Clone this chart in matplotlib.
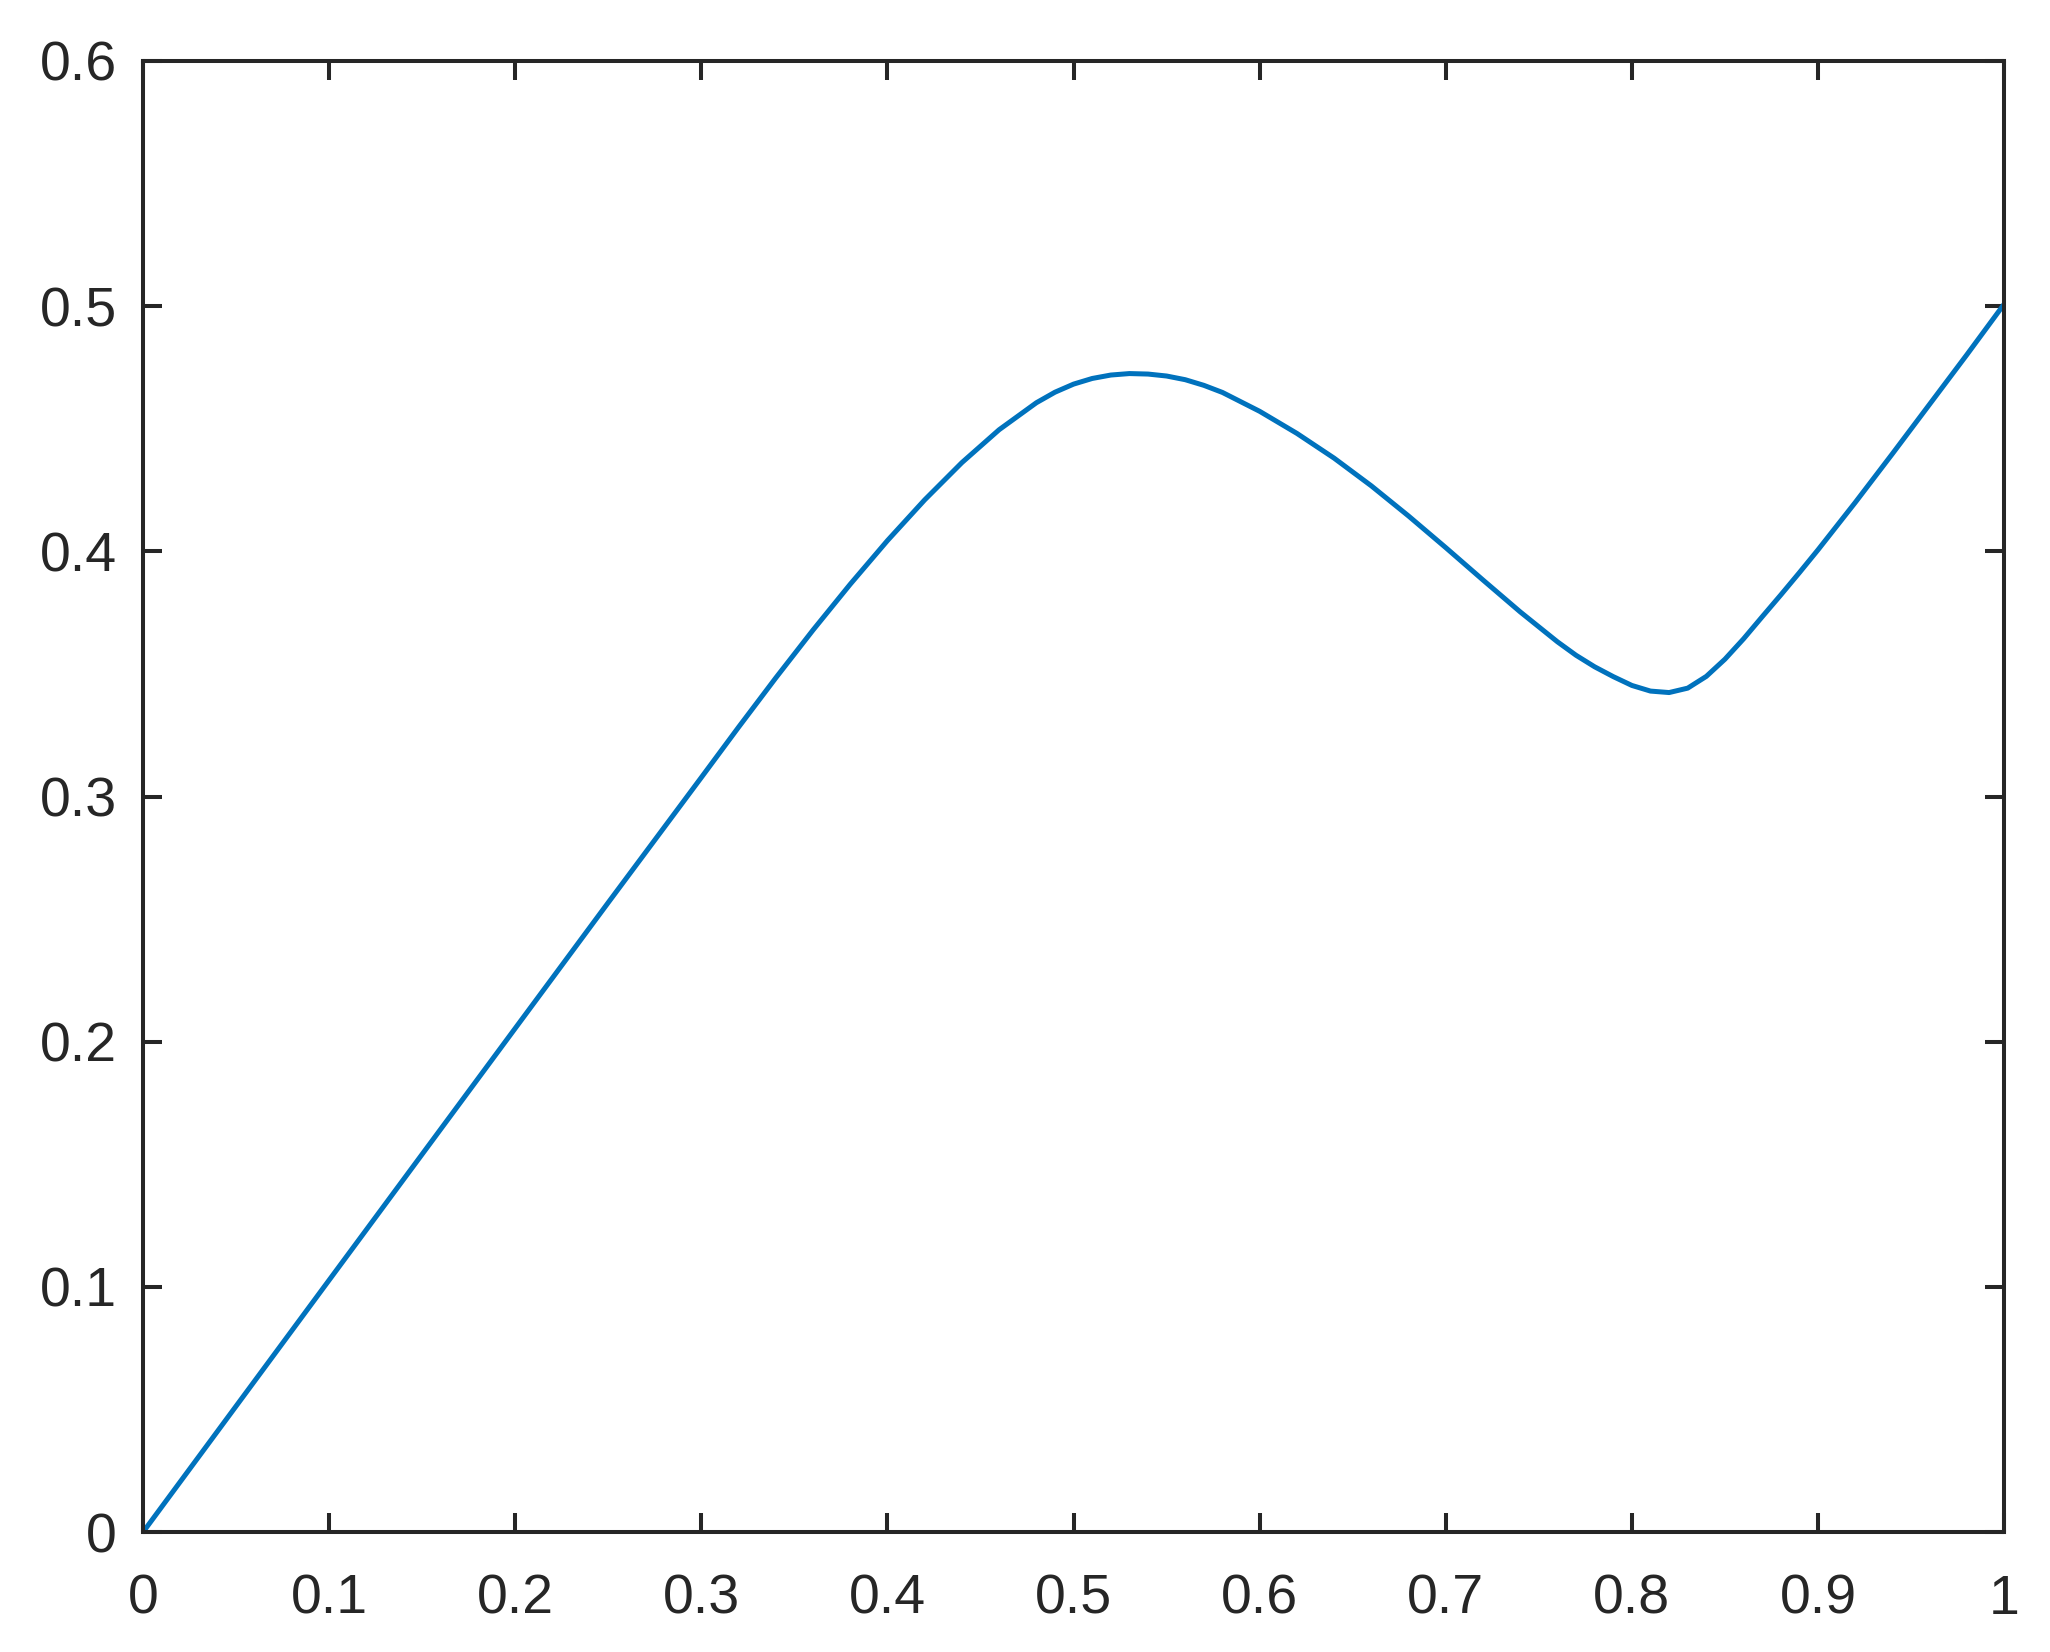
import matplotlib
matplotlib.use("Agg")
import matplotlib.pyplot as plt
import numpy as np

plt.rcParams['font.family'] = ['Liberation Sans', 'DejaVu Sans']

# points (denser where it bends)
x = [0.0, 0.1, 0.2, 0.25, 0.3, 0.32, 0.34, 0.36, 0.38, 0.40, 0.42, 0.44,
     0.46, 0.48, 0.49, 0.50, 0.51, 0.52, 0.53, 0.54, 0.55, 0.56, 0.57, 0.58,
     0.60, 0.62, 0.64, 0.66, 0.68, 0.70, 0.72, 0.74, 0.76, 0.77, 0.78, 0.79,
     0.80, 0.81, 0.82, 0.83, 0.84, 0.85, 0.86, 0.87, 0.88, 0.89, 0.90, 0.92,
     0.94, 0.96, 0.98, 1.0]
y = [0.0, 0.1028, 0.2055, 0.2568, 0.3078, 0.3283, 0.3484, 0.3679, 0.3866,
     0.4044, 0.4210, 0.4362, 0.4496, 0.4606, 0.4649, 0.4682, 0.4705, 0.4719,
     0.4725, 0.4723, 0.4715, 0.4700, 0.4677, 0.4648, 0.4571, 0.4481, 0.4380,
     0.4267, 0.4144, 0.4015, 0.3883, 0.3753, 0.3631, 0.3576, 0.3529, 0.3489,
     0.3453, 0.3430, 0.3424, 0.3442, 0.3490, 0.3560, 0.3643, 0.3733, 0.3822,
     0.3913, 0.4006, 0.4199, 0.4398, 0.4600, 0.4802, 0.5008]

xticks = [0, 0.1, 0.2, 0.3, 0.4, 0.5, 0.6, 0.7, 0.8, 0.9, 1]
xlabels = ['0', '0.1', '0.2', '0.3', '0.4', '0.5', '0.6', '0.7', '0.8', '0.9', '1']
yticks = [0, 0.1, 0.2, 0.3, 0.4, 0.5, 0.6]
ylabels = ['0', '0.1', '0.2', '0.3', '0.4', '0.5', '0.6']

fig = plt.figure(figsize=(20.5, 16.52), dpi=100)
ax = fig.add_axes([0.0698, 0.0726, 0.9078, 0.8905])

ax.plot(x, y, color='#0072BD', linewidth=3.6, solid_joinstyle='round')

ax.set_xlim(0, 1)
ax.set_ylim(0, 0.6)
ax.set_xticks(xticks)
ax.set_xticklabels(xlabels)
ax.set_yticks(yticks)
ax.set_yticklabels(ylabels)

for s in ax.spines.values():
    s.set_linewidth(2.9)
    s.set_color('#262626')
ax.tick_params(direction='in', length=13.5, width=2.9, color='#262626',
               labelsize=40, labelcolor='#262626', top=True, right=True)
ax.tick_params(axis='x', pad=30)
ax.tick_params(axis='y', pad=19)

plt.savefig('out.png', dpi=100)
